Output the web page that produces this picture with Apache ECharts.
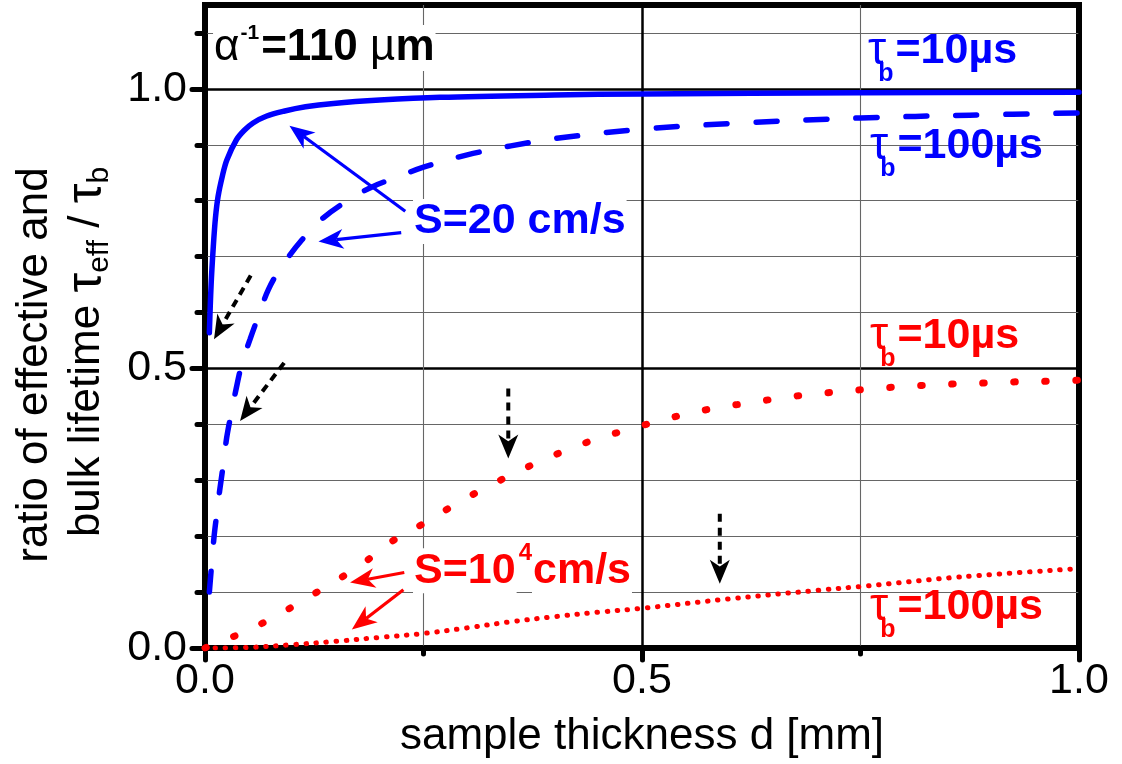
<!DOCTYPE html>
<html><head><meta charset="utf-8">
<script src="https://cdn.jsdelivr.net/npm/echarts@6/dist/echarts.min.js"></script>
<style>html,body{margin:0;padding:0;background:#fff}#c{width:1122px;height:764px}</style>
</head><body><div id="c"></div>
<script>
// ---------------- data ----------------
// x: sample thickness d [mm]; y: tau_eff / tau_b
const blueSolidD = [0.005, 0.007, 0.0095, 0.012, 0.015, 0.02, 0.025, 0.036, 0.045, 0.055, 0.07, 0.09, 0.115, 0.147, 0.2, 0.269, 0.4, 0.5, 0.75, 1.0];
const blueSolidR = [0.564, 0.65, 0.718, 0.77, 0.808, 0.845, 0.873, 0.909, 0.926, 0.939, 0.951, 0.96, 0.968, 0.974, 0.98, 0.985, 0.989, 0.991, 0.993, 0.994];

const blueDashD = [0.005, 0.0103, 0.0134, 0.017, 0.021, 0.0248, 0.0294, 0.0355, 0.042, 0.0515, 0.061, 0.0725, 0.088, 0.111, 0.135, 0.168, 0.193, 0.223, 0.25, 0.3, 0.35, 0.4, 0.5, 0.6, 0.75, 0.875, 1.0];
const blueDashR = [0.1, 0.198, 0.239, 0.284, 0.329, 0.376, 0.415, 0.4625, 0.507, 0.552, 0.593, 0.641, 0.683, 0.73, 0.769, 0.805, 0.826, 0.844, 0.86, 0.882, 0.898, 0.911, 0.928, 0.938, 0.948, 0.953, 0.957];

const redDot10D = [0, 0.008, 0.041, 0.075, 0.11, 0.145, 0.179, 0.21, 0.246, 0.279, 0.313, 0.348, 0.382, 0.417, 0.45, 0.485, 0.519, 0.552, 0.587, 0.621, 0.654, 0.689, 0.723, 0.758, 0.792, 0.825, 0.86, 0.893, 0.927, 0.962, 1.0];
const redDot10R = [0, 0.006, 0.026, 0.052, 0.083, 0.116, 0.149, 0.187, 0.219, 0.25, 0.28, 0.308, 0.333, 0.356, 0.375, 0.391, 0.406, 0.419, 0.43, 0.438, 0.446, 0.453, 0.458, 0.463, 0.467, 0.47, 0.4725, 0.474, 0.476, 0.477, 0.479];

const redDot100D = [0, 0.05, 0.1, 0.15, 0.2, 0.25, 0.3, 0.35, 0.4, 0.45, 0.5, 0.6, 0.7, 0.75, 0.863, 1.0];
const redDot100R = [0, 0.001, 0.006, 0.012, 0.019, 0.026, 0.036, 0.047, 0.056, 0.064, 0.071, 0.088, 0.103, 0.11, 0.127, 0.142];

const xMajorTicks = [0, 0.5, 1.0];
const yMajorTicks = [0, 0.5, 1.0];
const yMinorTicks = [0, 0.1, 0.2, 0.3, 0.4, 0.5, 0.6, 0.7, 0.8, 0.9, 1.0, 1.1];
const xTitle = 'sample thickness d [mm]';

// ---------------- styling ----------------
const FONT = '"Liberation Sans", Arial, Helvetica, sans-serif';
const BLUE = '#0000ff', RED = '#ff0000', BLACK = '#000000', GRAY = '#666666';

const zip = (a, b) => a.map((v, i) => [v, b[i]]);

const chart = echarts.init(document.getElementById('c'), null, {renderer: 'canvas', devicePixelRatio: 1});

const tickStyle = {color: BLACK, width: 5, cap: 'round'};

chart.setOption({
  animation: false,
  backgroundColor: '#fff',
  grid: {left: 205, right: 43, top: 5, bottom: 114, show: true, borderColor: BLACK, borderWidth: 6, backgroundColor: 'transparent', containLabel: false},
  xAxis: [{
    type: 'value', min: 0, max: 1, interval: 0.5, position: 'bottom',
    name: xTitle, nameLocation: 'middle', nameGap: 67,
    nameTextStyle: {fontSize: 44, fontFamily: FONT, color: BLACK},
    axisLine: {show: false},
    axisTick: {show: true, customValues: xMajorTicks, length: 12, lineStyle: tickStyle},
    minorTick: {show: true, splitNumber: 2, length: 6, lineStyle: tickStyle},
    axisLabel: {customValues: xMajorTicks, fontSize: 43, fontFamily: FONT, color: BLACK, margin: 12, formatter: v => v.toFixed(1)},
    splitLine: {show: true, lineStyle: {color: BLACK, width: 2.5}},
    minorSplitLine: {show: true, lineStyle: {color: GRAY, width: 1.1}}
  }],
  yAxis: [{
    type: 'value', min: 0, max: 1.15, interval: 0.1, position: 'left',
    axisLine: {show: false},
    axisLabel: {show: false},
    axisTick: {show: true, customValues: yMinorTicks, length: 8, lineStyle: tickStyle},
    splitLine: {show: true, lineStyle: {color: GRAY, width: 1.1}}
  }, {
    type: 'value', min: 0, max: 1.15, interval: 0.5, position: 'left',
    axisLine: {show: false},
    axisTick: {show: true, customValues: yMajorTicks, length: 13, lineStyle: tickStyle},
    axisLabel: {customValues: yMajorTicks, fontSize: 43, fontFamily: FONT, color: BLACK, margin: 18, formatter: v => v.toFixed(1)},
    splitLine: {show: true, lineStyle: {color: BLACK, width: 2.5}}
  }],
  series: [
    {type: 'line', name: 'S=20, tb=10', data: zip(blueSolidD, blueSolidR), yAxisIndex: 0, symbol: 'none', smooth: 0.35, silent: true,
     lineStyle: {color: BLUE, width: 5.5, cap: 'round', join: 'round'}, z: 5},
    {type: 'line', name: 'S=20, tb=100', data: zip(blueDashD, blueDashR), yAxisIndex: 0, symbol: 'none', smooth: 0.35, silent: true,
     lineStyle: {color: BLUE, width: 5.5, type: [21, 29], cap: 'round'}, z: 5},
    {type: 'line', name: 'S=1e4, tb=10', data: zip(redDot10D, redDot10R), yAxisIndex: 0, symbol: 'none', smooth: 0.35, silent: true,
     lineStyle: {color: RED, width: 7, type: [1.5, 29.5], cap: 'round'}, z: 5},
    {type: 'line', name: 'S=1e4, tb=100', data: zip(redDot100D, redDot100R), yAxisIndex: 0, symbol: 'none', smooth: 0.35, silent: true,
     lineStyle: {color: RED, width: 5, type: [0.5, 9.6], cap: 'round'}, z: 5}
  ]
});

// ---------------- annotations (anchored in data coordinates) ----------------
const mctx = document.createElement('canvas').getContext('2d');
function tw(t, font) { mctx.font = font; return mctx.measureText(t).width; }
const toPx = p => chart.convertToPixel({seriesIndex: 0}, p);

function hLabel(anchor, pieces, color) {
  const [ax, ay] = toPx(anchor);
  let x = ax; const els = [];
  pieces.forEach(p => {
    x += (p.gap || 0);
    const font = `${p.w || 'bold'} ${p.s}px ${FONT}`;
    const style = {text: p.t, font, fill: color, align: 'left', verticalAlign: 'middle', textAlign: 'left', textVerticalAlign: 'middle'};
    if (p.bg) { style.backgroundColor = '#fff'; style.padding = [1, 1]; }
    els.push({type: 'text', x: x, y: ay + (p.dy || 0), z: 60, silent: true, style});
    x += tw(p.t, font);
  });
  return els;
}

function vLabel(cx, cy, pieces, color) {
  // rotated 90deg (reads bottom to top), centred on (cx, cy)
  const widths = pieces.map(p => tw(p.t, `${p.w || 'normal'} ${p.s}px ${FONT}`) + (p.gap || 0));
  const total = widths.reduce((a, b) => a + b, 0);
  let adv = -total / 2; const els = [];
  pieces.forEach((p, i) => {
    adv += (p.gap || 0);
    const font = `${p.w || 'normal'} ${p.s}px ${FONT}`;
    els.push({type: 'text', x: cx + (p.dy || 0), y: cy - adv, rotation: Math.PI / 2, z: 60, silent: true,
      style: {text: p.t, font, fill: color, align: 'left', verticalAlign: 'middle', textAlign: 'left', textVerticalAlign: 'middle'}});
    adv += widths[i] - (p.gap || 0);
  });
  return els;
}

function arrow(from, to, color, width, dash, L, W) {
  const [x1, y1] = toPx(from), [x2, y2] = toPx(to);
  const dx = x2 - x1, dy = y2 - y1, len = Math.hypot(dx, dy);
  const ux = dx / len, uy = dy / len, px = -uy, py = ux;
  const bx = x2 - ux * L, by = y2 - uy * L;
  const nx = x2 - ux * L * 0.72, ny = y2 - uy * L * 0.72;
  const line = {type: 'line', z: 55, silent: true,
    shape: {x1, y1, x2: nx, y2: ny},
    style: {stroke: color, lineWidth: width, lineDash: dash || null, lineCap: 'butt'}};
  const head = {type: 'polygon', z: 56, silent: true,
    shape: {points: [[x2, y2], [bx + px * W, by + py * W], [nx, ny], [bx - px * W, by - py * W]]},
    style: {fill: color}};
  return [line, head];
}

const tauPieces = (num) => [
  {t: 'τ', s: 46, w: 'normal'},
  {t: 'b', s: 25, w: 'bold', dy: 23, gap: -8},
  {t: '=' + num + 'µs', s: 43, w: 'bold', gap: 2}
];

const labelAnchors = {
  alpha: [0.0092, 1.073],
  blueTau10: [0.7586, 1.068],
  blueTau100: [0.7609, 0.898],
  redTau10: [0.7609, 0.558],
  redTau100: [0.7609, 0.073],
  s20: [0.238, 0.763],
  s1e4: [0.238, 0.138]
};

const arrowsBlue = [[[0.2291, 0.781], [0.0966, 0.934]], [[0.2245, 0.743], [0.1298, 0.727]]];
const arrowsRed = [[[0.228, 0.135], [0.166, 0.117]], [[0.227, 0.104], [0.168, 0.033]]];
const arrowsBlack = [[[0.0523, 0.666], [0.0103, 0.552]], [[0.0905, 0.510], [0.0401, 0.406]],
                     [[0.347, 0.464], [0.347, 0.339]], [[0.589, 0.240], [0.589, 0.115]]];

let g = [];
g = g.concat(hLabel(labelAnchors.alpha, [
  {t: 'α', s: 44, w: 'normal', bg: true},
  {t: '-1', s: 21, w: 'bold', dy: -15, gap: 1, bg: true},
  {t: '=110 ', s: 44, w: 'bold', gap: 2, bg: true},
  {t: 'µ', s: 44, w: 'normal', bg: true},
  {t: 'm', s: 44, w: 'bold', bg: true}
], BLACK));
g = g.concat(hLabel(labelAnchors.blueTau10, tauPieces('10'), BLUE));
g = g.concat(hLabel(labelAnchors.blueTau100, tauPieces('100'), BLUE));
g = g.concat(hLabel(labelAnchors.redTau10, tauPieces('10'), RED));
g = g.concat(hLabel(labelAnchors.redTau100, tauPieces('100'), RED));
g = g.concat(hLabel(labelAnchors.s20, [{t: 'S=20 cm/s', s: 43, w: 'bold', bg: true}], BLUE));
g = g.concat(hLabel(labelAnchors.s1e4, [
  {t: 'S=10', s: 43, w: 'bold', bg: true},
  {t: '4', s: 24, w: 'bold', dy: -17, gap: 3, bg: true},
  {t: 'cm/s', s: 43, w: 'bold', gap: 1, bg: true}
], RED));

arrowsBlue.forEach(a => { g = g.concat(arrow(a[0], a[1], BLUE, 3.2, null, 25, 10)); });
arrowsRed.forEach(a => { g = g.concat(arrow(a[0], a[1], RED, 3.2, null, 25, 10)); });
arrowsBlack.forEach(a => { g = g.concat(arrow(a[0], a[1], BLACK, 4, [8, 6], 24, 10)); });

// y-axis title (two rotated lines)
g = g.concat(vLabel(35, 365, [{t: 'ratio of effective and', s: 44}], BLACK));
g = g.concat(vLabel(87, 352, [
  {t: 'bulk lifetime ', s: 44},
  {t: 'τ', s: 50},
  {t: 'eff', s: 30, dy: 13},
  {t: ' / ', s: 44},
  {t: 'τ', s: 50},
  {t: 'b', s: 30, dy: 13}
], BLACK));

chart.setOption({graphic: {elements: g}});
</script>
</body></html>
